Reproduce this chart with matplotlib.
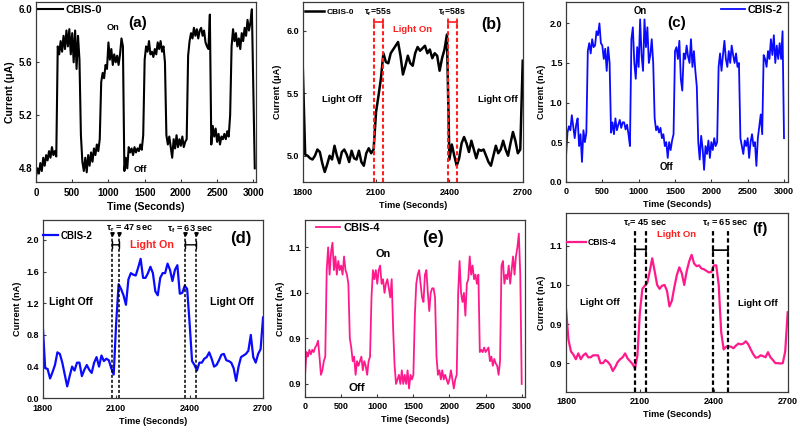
import numpy as np
import matplotlib
matplotlib.use("Agg")
import matplotlib.pyplot as plt

plt.rcParams['font.family'] = ['Liberation Sans', 'DejaVu Sans']
plt.rcParams['font.weight'] = 'bold'
plt.rcParams['axes.labelweight'] = 'bold'
plt.rcParams['mathtext.fontset'] = 'custom'
plt.rcParams['mathtext.rm'] = 'Liberation Sans'
plt.rcParams['mathtext.bf'] = 'Liberation Sans:bold'
plt.rcParams['mathtext.it'] = 'Liberation Sans:italic'

# ---------------- data ----------------
# (a) CBIS-0, full cycling, 20 s steps from 0 s
cbis0_full = [
    4.74, 4.80, 4.76, 4.84, 4.78, 4.88, 4.82, 4.90, 4.86, 4.93,
    4.88, 4.96, 4.90, 4.93, 4.89, 5.72, 5.66, 5.76, 5.68, 5.80,
    5.70, 5.84, 5.72, 5.85, 5.66, 5.82, 5.60, 5.84, 5.55, 5.80,
    5.62, 5.05, 4.85, 4.78, 4.88, 4.77, 4.90, 4.82, 4.92, 4.85,
    4.95, 4.90, 4.98, 4.93, 5.02, 5.45, 5.52, 5.48, 5.58, 5.55,
    5.75, 5.62, 5.70, 5.58, 5.66, 5.60, 5.65, 5.58, 5.66, 5.78,
    5.72, 4.78, 4.88, 4.80, 4.96, 4.92, 4.95, 4.90, 4.96, 4.92,
    4.95, 4.93, 4.98, 4.94, 5.05, 5.62, 5.72, 5.68, 5.76, 5.66,
    5.68, 5.64, 5.70, 5.66, 5.75, 5.70, 5.76, 5.68, 5.72, 5.60,
    5.05, 4.98, 5.04, 4.96, 4.88, 5.02, 4.95, 5.05, 4.96, 5.02,
    4.97, 5.04, 4.96, 5.00, 5.02, 5.65, 5.76, 5.82, 5.78, 5.86,
    5.80, 5.85, 5.78, 5.84, 5.86, 5.80, 5.84, 5.75, 5.72, 5.70,
    5.96, 4.98, 5.12, 5.04, 5.10, 5.00, 5.06, 4.98, 5.04, 5.02,
    5.06, 5.02, 5.08, 5.04, 5.20, 5.72, 5.85, 5.76, 5.82, 5.72,
    5.78, 5.70, 5.82, 5.76, 5.86, 5.80, 5.92, 5.84, 5.90, 6.00,
    5.40, 4.80,
]
# (c) CBIS-2, 20 s steps
cbis2_full = [
    0.32, 0.62, 0.70, 0.65, 0.84, 0.70, 0.55, 0.72, 0.80, 0.45,
    0.60, 0.25, 0.65, 0.50, 0.62, 1.65, 1.75, 1.62, 1.80, 1.70,
    1.72, 1.90, 1.85, 2.00, 1.75, 1.72, 1.55, 1.68, 1.40, 1.70,
    1.50, 0.62, 0.75, 0.60, 0.80, 0.65, 0.72, 0.78, 0.68, 0.75,
    0.75, 0.66, 0.72, 0.60, 0.45, 1.80, 1.95, 1.50, 1.30, 1.70,
    1.45, 2.05, 1.60, 1.40, 2.05, 1.70, 1.95, 1.50, 1.60, 1.80,
    1.50, 0.80, 0.65, 0.70, 0.62, 0.68, 0.55, 0.60, 0.45, 0.50,
    0.30, 0.50, 0.40, 0.52, 0.60, 1.65, 1.70, 1.55, 1.78, 1.30,
    1.15, 1.62, 1.55, 1.72, 1.58, 1.50, 1.80, 1.45, 1.65, 1.40,
    1.20, 0.50, 0.28, 0.58, 0.42, 0.15, 0.45, 0.35, 0.52, 0.30,
    0.50, 0.40, 0.55, 0.45, 0.50, 1.45, 1.62, 1.40, 1.60, 1.78,
    1.55, 1.45, 1.65, 1.50, 1.72, 1.60, 1.50, 1.62, 1.45, 1.50,
    0.55, 0.45, 0.35, 0.52, 0.45, 0.55, 0.30, 0.50, 0.60, 0.45,
    0.50, 0.20, 0.55, 0.70, 0.85, 0.60, 1.60, 1.55, 1.45, 1.65,
    1.55, 1.80, 1.60, 1.85, 1.50, 1.72, 1.55, 1.75, 1.55, 1.90,
    0.55,
]
# (e) CBIS-4, 20 s steps
cbis4_full = [
    0.82, 0.87, 0.86, 0.875, 0.865, 0.875, 0.87, 0.88, 0.885, 0.895,
    0.86, 0.82, 0.83, 0.85, 0.86, 1.05, 1.10, 1.04, 1.09, 1.11,
    1.05, 1.08, 1.04, 1.07, 1.05, 1.06, 1.04, 1.08, 1.05, 1.04,
    1.02, 0.90, 0.88, 0.85, 0.86, 0.82, 0.85, 0.84, 0.85, 0.86,
    0.83, 0.85, 0.84, 0.82, 0.85, 0.86, 0.99, 1.05, 1.03, 1.05,
    1.02, 1.05, 1.06, 1.02, 1.03, 1.00, 1.02, 1.03, 1.01, 0.99,
    1.03, 0.92, 0.84, 0.80, 0.81, 0.82, 0.80, 0.83, 0.80, 0.82,
    0.80, 0.83, 0.79, 0.82, 0.81, 0.82, 0.95, 1.02, 1.04, 1.05,
    1.02, 0.99, 0.98, 1.04, 1.05, 1.00, 0.96, 1.00, 1.01, 1.01,
    0.99, 0.86, 0.82, 0.83, 0.81, 0.83, 0.81, 0.82, 0.81, 0.80,
    0.81, 0.83, 0.81, 0.79, 0.81, 0.82, 1.00, 1.07, 1.00, 0.98,
    1.00, 0.95, 1.02, 1.03, 1.08, 1.04, 1.06, 1.03, 1.04, 1.02,
    1.04, 0.87, 0.875, 0.87, 0.88, 0.87, 0.875, 0.88, 0.85, 0.86,
    0.84, 0.855, 0.845, 0.84, 0.82, 0.85, 1.06, 1.07, 1.02, 1.04,
    1.03, 1.06, 1.02, 1.05, 1.08, 1.04, 1.08, 1.10, 1.13, 1.04,
    0.80,
]
# (b),(d),(f) zoomed cycle, 10 s steps from 1800 s
cbis0_zoom = [
    5.72, 5.01, 5.00, 4.98, 4.97, 5.00, 5.05, 5.03, 4.94, 4.87,
    4.93, 5.00, 4.97, 5.08, 5.00, 4.94, 5.03, 5.05, 5.01, 4.95,
    5.04, 4.98, 4.97, 5.04, 4.95, 4.92, 5.02, 5.06, 5.02, 5.05,
    5.35, 5.48, 5.62, 5.82, 5.75, 5.74, 5.82, 5.85, 5.88, 5.91,
    5.80, 5.65, 5.72, 5.80, 5.74, 5.72, 5.82, 5.87, 5.84, 5.86,
    5.88, 5.82, 5.85, 5.78, 5.82, 5.80, 5.68, 5.78, 5.85, 5.97,
    4.97, 5.09, 5.00, 4.92, 4.98, 5.10, 5.15, 5.10, 5.03, 5.12,
    5.05, 4.98, 5.05, 5.04, 5.05, 5.00, 4.95, 4.92, 5.00, 5.08,
    5.02, 5.05, 5.12, 5.05, 5.00, 5.10, 5.19, 5.12, 5.02, 5.05,
    5.76,
]
cbis2_zoom = [
    0.93, 0.38, 0.37, 0.25, 0.33, 0.42, 0.58, 0.56, 0.45, 0.30,
    0.15, 0.28, 0.40, 0.35, 0.45, 0.45, 0.28, 0.36, 0.42, 0.36,
    0.32, 0.45, 0.52, 0.40, 0.54, 0.47, 0.50, 0.48, 0.38, 0.30,
    0.95, 1.44, 1.38, 1.30, 1.18, 1.50, 1.58, 1.56, 1.55, 1.65,
    1.76, 1.52, 1.52, 1.58, 1.66, 1.58, 1.35, 1.30, 1.52, 1.58,
    1.58, 1.70, 1.62, 1.48, 1.62, 1.68, 1.32, 1.33, 1.42, 1.38,
    0.95, 0.47, 0.42, 0.35, 0.45, 0.45, 0.50, 0.52, 0.58, 0.50,
    0.40, 0.42, 0.48, 0.55, 0.56, 0.48, 0.47, 0.45, 0.38, 0.22,
    0.40, 0.52, 0.54, 0.56, 0.60, 0.80, 0.52, 0.45, 0.56, 0.62,
    1.02,
]
cbis4_zoom = [
    0.94, 0.86, 0.83, 0.822, 0.81, 0.825, 0.81, 0.82, 0.825, 0.815,
    0.815, 0.82, 0.82, 0.82, 0.80, 0.80, 0.808, 0.803, 0.795, 0.78,
    0.79, 0.803, 0.81, 0.815, 0.825, 0.812, 0.805, 0.798, 0.786, 0.82,
    0.93, 0.99, 0.998, 1.005, 1.035, 1.068, 1.035, 1.00, 0.99, 0.998,
    1.00, 0.985, 0.945, 0.96, 0.995, 1.025, 1.045, 1.03, 1.00, 1.035,
    1.06, 1.077, 1.055, 1.048, 1.05, 1.042, 1.04, 1.036, 1.032, 1.033,
    1.05, 1.05, 1.00, 0.88, 0.835, 0.842, 0.843, 0.842, 0.838, 0.845,
    0.85, 0.848, 0.85, 0.856, 0.848, 0.835, 0.823, 0.814, 0.815, 0.82,
    0.818, 0.815, 0.828, 0.815, 0.808, 0.80, 0.80, 0.799, 0.80, 0.83,
    0.93,
]

t_full = np.arange(len(cbis0_full)) * 20
t_full_c = np.arange(len(cbis2_full)) * 20
t_full_e = np.arange(len(cbis4_full)) * 20
t_zoom = 1800 + np.arange(len(cbis0_zoom)) * 10

full_xticks = [0, 500, 1000, 1500, 2000, 2500, 3000]
zoom_xticks = [1800, 2100, 2400, 2700]
yt_a = [4.8, 5.2, 5.6, 6.0]
yt_b = [5.0, 5.5, 6.0]
yt_c = [0.0, 0.5, 1.0, 1.5, 2.0]
yt_d = [0.0, 0.4, 0.8, 1.2, 1.6, 2.0]
yt_ef = [0.8, 0.9, 1.0, 1.1]
yt_ef_labels = ['0.9', '0.9', '1.0', '1.1']

BLACK = '#000000'
BLUE = '#0a0aff'
PINK = '#ff1a8c'
RED = '#ff1f1f'
FRAME = '#3a3a3a'

fig = plt.figure(figsize=(8, 4.32), dpi=100)


def setup(ax, xlim, ylim, xticks, yticks, ylabel, tfs=6.5, lfs=6.6, yfmt='%.1f', ylabels=None):
    ax.set_xlim(*xlim)
    ax.set_ylim(*ylim)
    ax.set_xticks(xticks)
    ax.set_yticks(yticks)
    if ylabels is None:
        ax.set_yticklabels([yfmt % v for v in yticks])
    else:
        ax.set_yticklabels(ylabels)
    ax.set_xticklabels([str(v) for v in xticks])
    ax.tick_params(direction='in', length=2, width=0.8, labelsize=tfs, pad=2.5, color=FRAME)
    ax.tick_params(axis='x', pad=4)
    for s in ax.spines.values():
        s.set_color(FRAME)
        s.set_linewidth(0.9)
    ax.set_xlabel('Time (Seconds)', fontsize=lfs, labelpad=3)
    ax.set_ylabel(ylabel, fontsize=lfs, labelpad=3)


def legend(ax, loc, fs, hl, anchor):
    ax.legend(loc=loc, bbox_to_anchor=anchor, frameon=False, fontsize=fs,
              handlelength=hl, handletextpad=0.25, borderaxespad=0.0, borderpad=0.0)

# ---------------- (a) ----------------
axa = fig.add_axes([0.045, 0.5787, 0.275, 0.4167])
axa.plot(t_full, cbis0_full, color=BLACK, lw=1.5, label='CBIS-0')
setup(axa, (0, 3037), (4.697, 6.055), full_xticks, yt_a, 'Current (\u03bcA)', tfs=7, lfs=7.6)
legend(axa, 'upper left', 8, 2.2, (0.01, 0.985))
axa.text(0.46, 0.883, '(a)', transform=axa.transAxes, fontsize=11, ha='center', va='center')
axa.text(0.35, 0.856, 'On', transform=axa.transAxes, fontsize=6.6, ha='center', va='center')
axa.text(0.473, 0.072, 'Off', transform=axa.transAxes, fontsize=6.6, ha='center', va='center')

# ---------------- (b) ----------------
axb = fig.add_axes([0.3784, 0.5787, 0.275, 0.4167])
axb.plot(t_zoom, cbis0_zoom, color=BLACK, lw=1.8, label='CBIS-0')
setup(axb, (1800, 2700), (4.79, 6.23), zoom_xticks, yt_b, 'Current (\u03bcA)')
legend(axb, 'upper left', 6, 2.3, (0.01, 0.965))
for xv in [2092, 2129, 2394, 2431]:
    axb.plot([xv, xv], [4.79, 6.088], color=RED, lw=1.5, ls=(0, (2, 1.2)))
for x0, x1 in [(2092, 2129), (2394, 2431)]:
    axb.annotate('', xy=(x1, 6.07), xytext=(x0, 6.07),
                 arrowprops=dict(arrowstyle='|-|, widthA=0.25, widthB=0.25', color=RED, lw=1.2,
                                 shrinkA=0, shrinkB=0))
axb.text(2107, 6.15, r'τ$_\mathregular{r}$=55s', fontsize=6.3, ha='center', va='center')
axb.text(2410, 6.15, r'τ$_\mathregular{f}$=58s', fontsize=6.3, ha='center', va='center')
axb.text(2249, 6.01, 'Light On', color=RED, fontsize=6.8, ha='center', va='center')
axb.text(1961, 5.45, 'Light Off', fontsize=6.8, ha='center', va='center')
axb.text(2600, 5.45, 'Light Off', fontsize=6.8, ha='center', va='center')
axb.text(2573, 6.048, '(b)', fontsize=11.5, ha='center', va='center')

# ---------------- (c) ----------------
axc = fig.add_axes([0.7075, 0.5794, 0.2775, 0.4160])
axc.plot(t_full_c, cbis2_full, color=BLUE, lw=1.3, label='CBIS-2')
setup(axc, (0, 3055), (0, 2.27), full_xticks, yt_c, 'Current (nA)')
legend(axc, 'upper right', 7.7, 2.2, (0.975, 0.985))
axc.text(0.499, 0.881, '(c)', transform=axc.transAxes, fontsize=11, ha='center', va='center')
axc.text(0.333, 0.95, 'On', transform=axc.transAxes, fontsize=6.9, ha='center', va='center')
axc.text(0.453, 0.083, 'Off', transform=axc.transAxes, fontsize=6.9, ha='center', va='center')

# ---------------- (d) ----------------
axd = fig.add_axes([0.0534, 0.0780, 0.2754, 0.4127])
axd.plot(t_zoom, cbis2_zoom, color=BLUE, lw=1.6, label='CBIS-2')
setup(axd, (1800, 2700), (0, 2.25), zoom_xticks, yt_d, 'Current (nA)')
legend(axd, 'upper left', 7, 1.6, (0.0, 0.94))
for xv in [2085, 2113, 2383, 2428]:
    axd.plot([xv, xv], [0, 2.055], color=BLACK, lw=1.1, ls=(0, (2, 1.3)))
    axd.plot([xv], [2.07], marker='v', color=BLACK, ms=2.5)
for x0, x1 in [(2085, 2113), (2383, 2428)]:
    axd.annotate('', xy=(x1, 1.937), xytext=(x0, 1.937),
                 arrowprops=dict(arrowstyle='|-|, widthA=0.25, widthB=0.25', color=BLACK, lw=1.0,
                                 shrinkA=0, shrinkB=0))
axd.text(2156, 2.147, r'τ$_\mathregular{r}$ = 47 sec', fontsize=6.6, ha='center', va='center')
axd.text(2404, 2.139, r'τ$_\mathregular{f}$ = 63 sec', fontsize=6.6, ha='center', va='center')
axd.text(2245, 1.93, 'Light On', color=RED, fontsize=7.7, ha='center', va='center')
axd.text(1916, 1.21, 'Light Off', fontsize=7.6, ha='center', va='center')
axd.text(2573, 1.21, 'Light Off', fontsize=7.6, ha='center', va='center')
axd.text(2611, 2.02, '(d)', fontsize=12, ha='center', va='center')

# ---------------- (e) ----------------
axe = fig.add_axes([0.3813, 0.0817, 0.275, 0.4090])
axe.plot(t_full_e, cbis4_full, color=PINK, lw=1.3, label='CBIS-4')
setup(axe, (0, 3046), (0.772, 1.16), full_xticks, yt_ef, 'Current (nA)', ylabels=yt_ef_labels)
legend(axe, 'upper left', 8, 2.2, (0.05, 0.985))
axe.text(0.583, 0.896, '(e)', transform=axe.transAxes, fontsize=13, ha='center', va='center')
axe.text(0.356, 0.806, 'On', transform=axe.transAxes, fontsize=7.8, ha='center', va='center')
axe.text(0.235, 0.047, 'Off', transform=axe.transAxes, fontsize=8.2, ha='center', va='center')

# ---------------- (f) ----------------
axf = fig.add_axes([0.7075, 0.0933, 0.2771, 0.4137])
axf.plot(t_zoom, cbis4_zoom, color=PINK, lw=1.6, label='CBIS-4')
setup(axf, (1800, 2700), (0.727, 1.184), zoom_xticks, yt_ef, 'Current (nA)', ylabels=yt_ef_labels)
legend(axf, 'upper left', 6.2, 2.2, (0.003, 0.86))
for xv in [2080, 2123, 2395, 2459]:
    axf.plot([xv, xv], [0.727, 1.137], color=BLACK, lw=1.6, ls=(0, (2, 1.2)))
for (x0, x1), yb in [((2080, 2123), 1.091), ((2395, 2459), 1.089)]:
    axf.annotate('', xy=(x1, yb), xytext=(x0, yb),
                 arrowprops=dict(arrowstyle='|-|, widthA=0.25, widthB=0.25', color=BLACK, lw=1.2,
                                 shrinkA=0, shrinkB=0))
axf.text(2121, 1.158, r'τ$_\mathregular{r}$= 45 sec', fontsize=6.6, ha='center', va='center')
axf.text(2446, 1.158, r'τ$_\mathregular{f}$ = 65 sec', fontsize=6.6, ha='center', va='center')
axf.text(2249, 1.128, 'Light On', color=RED, fontsize=6.8, ha='center', va='center')
axf.text(1938, 0.956, 'Light Off', fontsize=6.8, ha='center', va='center')
axf.text(2581, 0.953, 'Light Off', fontsize=6.8, ha='center', va='center')
axf.text(2588, 1.144, '(f)', fontsize=11, ha='center', va='center')

fig.savefig('out.png', dpi=100)
